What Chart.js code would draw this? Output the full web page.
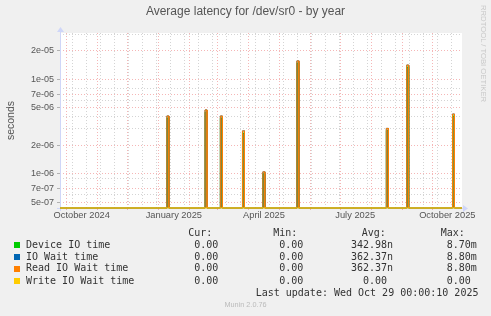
<!DOCTYPE html>
<html><head><meta charset="utf-8">
<script src="https://cdn.jsdelivr.net/npm/chart.js@4/dist/chart.umd.min.js"></script>
<style>
html,body{margin:0;padding:0;background:#f0f0f0;}
#wrap{position:relative;width:491px;height:316px;overflow:hidden;background:#f0f0f0;}
canvas{position:absolute;left:0;top:0;}
.t{position:absolute;white-space:pre;font-family:'DejaVu Sans Mono',monospace;font-size:10px;line-height:12px;color:#333;}
.sq{position:absolute;width:6px;height:6px;}
</style></head><body>
<div id="wrap"><canvas id="c" width="491" height="316"></canvas></div>
<script>
// ---------- data ----------
const chartTitle = 'Average latency for /dev/sr0 - by year';
const yAxisTitle = 'seconds';
const seriesNames = ['Device IO time', 'IO Wait time', 'Read IO Wait time', 'Write IO Wait time'];
const seriesColors = ['#00CC00', '#0066B3', '#FF8000', '#FFCC00'];
const spikeDates = ['2025-01-10T00:00Z', '2025-02-17T02:00Z', '2025-03-04T10:00Z', '2025-03-26T12:00Z',
  '2025-04-15T20:00Z', '2025-05-19T19:00Z', '2025-08-17T03:00Z', '2025-09-06T10:00Z', '2025-10-22T04:00Z'];
const deviceIO  = [3.9e-6, 4.5e-6, 3.9e-6, 2.7e-6, 1.0e-6, 1.49e-5, 2.88e-6, 1.35e-5, 4.1e-6];
const ioWait    = [4.1e-6, 4.75e-6, 4.1e-6, 2.85e-6, 1.05e-6, 1.57e-5, 3.03e-6, 1.42e-5, 4.3e-6];
const readWait  = [4.1e-6, 4.75e-6, 4.1e-6, 2.85e-6, 1.05e-6, 1.57e-5, 3.03e-6, 1.42e-5, 4.3e-6];
const writeWait = [0, 0, 0, 0, 0, 0, 0, 0, 0];
const legendCur = ['0.00', '0.00', '0.00', '0.00'];
const legendMin = ['0.00', '0.00', '0.00', '0.00'];
const legendAvg = ['342.98n', '362.37n', '362.37n', '0.00'];
const legendMax = ['8.70m', '8.80m', '8.80m', '0.00'];
const lastUpdate = 'Last update: Wed Oct 29 00:00:10 2025';
const yTickValues = [5e-7, 7e-7, 1e-6, 2e-6, 5e-6, 7e-6, 1e-5, 2e-5];
const yTickLabels = ['5e-07', '7e-07', '1e-06', '2e-06', '5e-06', '7e-06', '1e-05', '2e-05'];
const yMinorValues = [6e-7, 9e-7, 3e-6, 4e-6, 6e-6, 8e-6, 3e-5];
const monthStarts = ['2024-10-01', '2024-11-01', '2024-12-01', '2025-01-01', '2025-02-01', '2025-03-01',
  '2025-04-01', '2025-05-01', '2025-06-01', '2025-07-01', '2025-08-01', '2025-09-01', '2025-10-01'];
const xLabelDates = ['2024-10-16', '2025-01-16', '2025-04-16', '2025-07-16', '2025-10-16'];
const xLabels = ['October 2024', 'January 2025', 'April 2025', 'July 2025', 'October 2025'];
const xRange = ['2024-09-24T07:30:00Z', '2025-10-30T16:00:00Z'];
const yRange = [4.35e-7, 3.1e-5];
const minorGridStart = '2024-10-07';

// ---------- helpers ----------
const DAY = 86400000;
const toDay = s => Date.parse(s) / DAY;
const X_MIN = toDay(xRange[0]), X_MAX = toDay(xRange[1]);
const Y_MIN = yRange[0], Y_MAX = yRange[1];
const HW = 1.0; // half width of a one-day spike, in days

function buildSeries(values) {
  const pts = [{x: X_MIN, y: 0}];
  spikeDates.forEach((d, i) => {
    const c = toDay(d);
    pts.push({x: c - HW, y: 0}, {x: c - HW, y: values[i]}, {x: c + HW, y: values[i]}, {x: c + HW, y: 0});
  });
  pts.push({x: X_MAX, y: 0});
  // zero cannot be shown on a log axis: rrdtool draws it on the floor of the graph
  return pts.map(p => ({x: p.x, y: p.y > 0 ? p.y : Y_MIN}));
}

const minorX = [];
for (let d = toDay(minorGridStart); d <= X_MAX; d += 14) minorX.push(d);

const FONT = "'Liberation Sans', Arial, sans-serif";
const RED = 'rgba(235,110,110,0.5)';
const GRAY = 'rgba(170,170,170,0.5)';

const decoPlugin = {
  id: 'deco',
  beforeDraw(chart) {
    const {ctx, chartArea: a} = chart;
    ctx.save();
    ctx.fillStyle = '#f0f0f0';
    ctx.fillRect(0, 0, chart.width, chart.height);
    ctx.fillStyle = '#ffffff';
    ctx.fillRect(a.left, a.top, a.right - a.left, a.bottom - a.top);
    ctx.restore();
  },
  beforeDatasetsDraw(chart) {
    const {ctx, chartArea: a} = chart;
    ctx.save();
    ctx.strokeStyle = '#CFD6F8';
    ctx.fillStyle = '#CFD6F8';
    ctx.lineWidth = 1;
    const by = Math.round(a.bottom) + 0.5, lx = Math.round(a.left) + 0.5;
    ctx.beginPath();
    ctx.moveTo(a.left - 3, by); ctx.lineTo(a.right + 1, by);
    ctx.moveTo(lx, a.bottom + 3); ctx.lineTo(lx, a.top - 1);
    ctx.stroke();
    ctx.beginPath();
    ctx.moveTo(a.right + 1, by - 3.5); ctx.lineTo(a.right + 6, by); ctx.lineTo(a.right + 1, by + 3.5); ctx.closePath();
    ctx.fill();
    ctx.beginPath();
    ctx.moveTo(lx - 3.5, a.top - 1); ctx.lineTo(lx, a.top - 6); ctx.lineTo(lx + 3.5, a.top - 1); ctx.closePath();
    ctx.fill();
    ctx.restore();
  }
};

const datasets = [
  {label: seriesNames[0], data: buildSeries(deviceIO), borderColor: seriesColors[0], backgroundColor: 'rgba(135,140,55,0.95)', fill: 'start', order: 3},
  {label: seriesNames[1], data: buildSeries(ioWait), borderColor: seriesColors[1], fill: false, order: 2},
  {label: seriesNames[2], data: buildSeries(readWait), borderColor: seriesColors[2], fill: false, order: 1},
  {label: seriesNames[3], data: buildSeries(writeWait), borderColor: seriesColors[3], fill: false, order: 0}
].map(d => Object.assign(d, {borderWidth: 1, pointRadius: 0, tension: 0, clip: 2}));

new Chart(document.getElementById('c'), {
  type: 'line',
  data: {datasets},
  plugins: [decoPlugin],
  options: {
    responsive: false,
    devicePixelRatio: 1,
    animation: false,
    events: [],
    layout: {padding: {left: 0, right: 0, top: 0, bottom: 94}},
    plugins: {
      legend: {display: false},
      tooltip: {enabled: false},
      title: {display: true, text: chartTitle, color: '#555',
        font: {family: FONT, size: 12, weight: 'normal'}, padding: {top: 4.5, bottom: 14.1}}
    },
    scales: {
      x: {
        type: 'linear', position: 'bottom', min: X_MIN, max: X_MAX,
        afterBuildTicks: s => { s.ticks = monthStarts.map(d => ({value: toDay(d)})); },
        afterFit: s => { s.height = 0; },
        ticks: {display: false, autoSkip: false},
        grid: {color: RED, drawTicks: true, tickLength: 2, tickColor: RED},
        border: {display: false, dash: [1, 2]}
      },
      xMinor: {
        type: 'linear', position: 'bottom', min: X_MIN, max: X_MAX,
        afterBuildTicks: s => { s.ticks = minorX.map(v => ({value: v})); },
        afterFit: s => { s.height = 0; },
        ticks: {display: false, autoSkip: false},
        grid: {color: GRAY, drawTicks: false, z: -1},
        border: {display: false, dash: [1, 2]}
      },
      xLab: {
        type: 'linear', position: 'bottom', min: X_MIN, max: X_MAX,
        afterBuildTicks: s => { s.ticks = xLabelDates.map(d => ({value: toDay(d)})); },
        afterFit: s => { s.height = 14; },
        ticks: {autoSkip: false, maxRotation: 0, padding: 1.5, color: '#555',
          font: {family: FONT, size: 9.3}, callback: (v, i) => xLabels[i]},
        grid: {display: false, drawTicks: false},
        border: {display: false}
      },
      y: {
        type: 'logarithmic', position: 'left', min: Y_MIN, max: Y_MAX,
        afterBuildTicks: s => { s.ticks = yTickValues.map(v => ({value: v})); },
        afterFit: s => { s.width = 60; },
        ticks: {autoSkip: false, padding: 3, color: '#555',
          font: {family: FONT, size: 9}, callback: (v, i) => yTickLabels[i]},
        grid: {color: RED, drawTicks: true, tickLength: 3, tickColor: 'rgba(150,150,150,0.7)'},
        border: {display: false, dash: [1, 2]},
        title: {display: true, text: yAxisTitle, color: '#555',
          font: {family: FONT, size: 10.5}, padding: {top: 5, bottom: 0}}
      },
      yMinor: {
        type: 'logarithmic', position: 'left', min: Y_MIN, max: Y_MAX,
        afterBuildTicks: s => { s.ticks = yMinorValues.map(v => ({value: v})); },
        afterFit: s => { s.width = 0; },
        ticks: {display: false, autoSkip: false},
        grid: {color: GRAY, drawTicks: false, z: -1},
        border: {display: false, dash: [1, 2]}
      },
      yRight: {
        type: 'logarithmic', position: 'right', min: Y_MIN, max: Y_MAX,
        afterFit: s => { s.width = 29; },
        ticks: {display: false},
        grid: {display: false, drawTicks: false},
        border: {display: false}
      }
    }
  }
});

// ---------- legend (text) ----------
const wrap = document.getElementById('wrap');
function put(text, left, top, extra) {
  const e = document.createElement('div');
  e.className = 't';
  e.textContent = text;
  e.style.left = left + 'px';
  e.style.top = top + 'px';
  if (extra) Object.assign(e.style, extra);
  wrap.appendChild(e);
  return e;
}
put('Cur:', 188.3, 226.7);
put('Min:', 273.3, 226.7);
put('Avg:', 361.7, 226.7);
put('Max:', 440.7, 226.7);
const rowTops = [239, 250.7, 262.3, 274.7];
seriesNames.forEach((n, i) => {
  const sq = document.createElement('div');
  sq.className = 'sq';
  sq.style.left = '14px';
  sq.style.top = (rowTops[i] + 3.3) + 'px';
  sq.style.background = seriesColors[i];
  wrap.appendChild(sq);
  put(n, 26, rowTops[i]);
  put(legendCur[i], 194.3, rowTops[i]);
  put(legendMin[i], 279.3, rowTops[i]);
  put(legendAvg[i], 351 + (legendAvg[i].length === 4 ? 11.9 : 0), rowTops[i]);
  put(legendMax[i], 446.7, rowTops[i]);
});
put(lastUpdate, 255.7, 286.7);
put('Munin 2.0.76', 0, 299.5, {width: '491px', textAlign: 'center', fontFamily: FONT, fontSize: '7.3px', lineHeight: '9px', color: '#bbb'});
put('RRDTOOL / TOBI OETIKER', 479, 5, {writingMode: 'vertical-rl', fontFamily: FONT, fontSize: '7.7px', lineHeight: '8px', color: '#c8c8c8'});
</script>
</body></html>
